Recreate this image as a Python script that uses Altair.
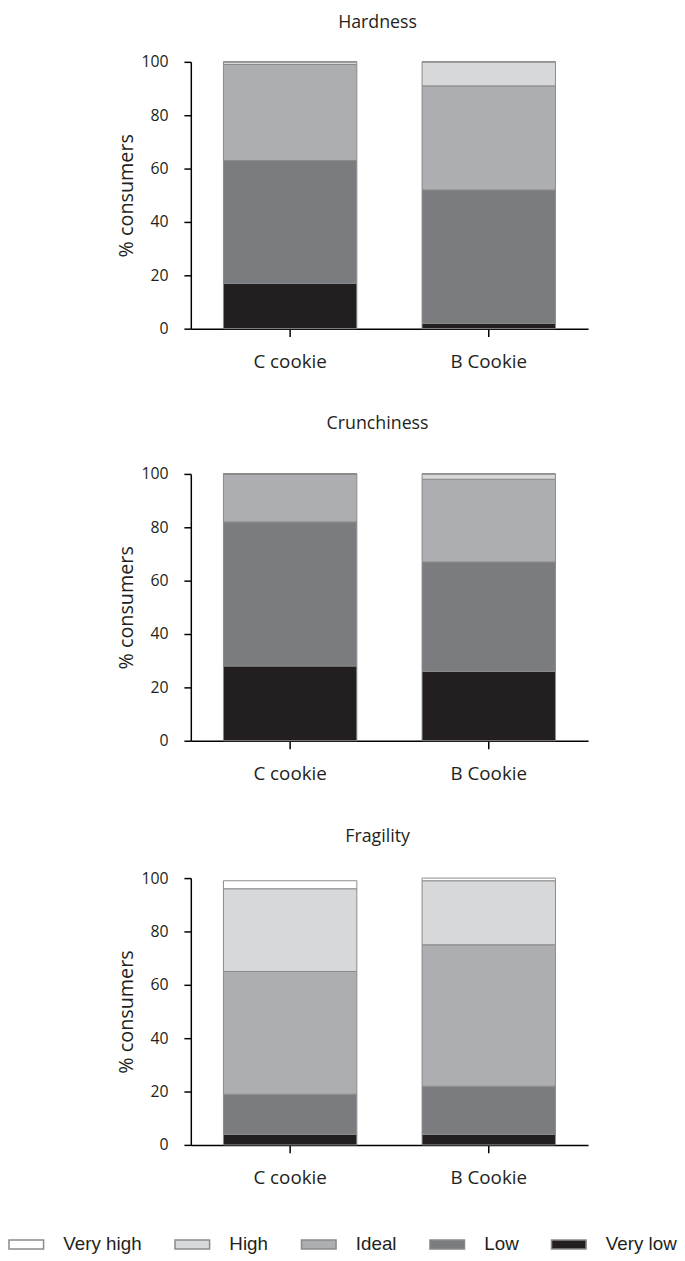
import altair as alt
import pandas as pd

attributes = ["Hardness", "Crunchiness", "Fragility"]
cookies = ["C cookie", "B Cookie"]
levels = ["Very high", "High", "Ideal", "Low", "Very low"]
colors = ["#ffffff", "#d7d8da", "#adaeb1", "#7b7c7f", "#231f20"]

# values listed bottom-up: Very low, Low, Ideal, High, Very high
hardness_c = [17, 46, 36, 1, 0]
hardness_b = [2, 50, 39, 9, 0]
crunch_c = [28, 54, 18, 0, 0]
crunch_b = [26, 41, 31, 2, 0]
fragility_c = [4, 15, 46, 31, 3]
fragility_b = [4, 18, 53, 24, 1]

bottom_up = ["Very low", "Low", "Ideal", "High", "Very high"]
series = {
    ("Hardness", "C cookie"): hardness_c,
    ("Hardness", "B Cookie"): hardness_b,
    ("Crunchiness", "C cookie"): crunch_c,
    ("Crunchiness", "B Cookie"): crunch_b,
    ("Fragility", "C cookie"): fragility_c,
    ("Fragility", "B Cookie"): fragility_b,
}
rows = []
for (attr, cookie), vals in series.items():
    for i, (lvl, v) in enumerate(zip(bottom_up, vals)):
        rows.append({"Attribute": attr, "Cookie": cookie, "Level": lvl, "Value": v, "rank": i})
df = pd.DataFrame(rows)

FONT = "Open Sans"
LEGEND_FONT = "Liberation Sans"
TXT = "#231f20"
title_offsets = {"Hardness": 22, "Crunchiness": 33, "Fragility": 25}


def panel(attr):
    return (
        alt.Chart(df)
        .transform_filter(alt.datum.Attribute == attr)
        .mark_bar(size=135, stroke="#8a8a8a", strokeWidth=1)
        .encode(
            x=alt.X(
                "Cookie:N",
                sort=cookies,
                scale=alt.Scale(paddingInner=0, paddingOuter=0),
                axis=alt.Axis(title=None, labelAngle=0, tickSize=8, labelPadding=16,
                              labelFontSize=19),
            ),
            y=alt.Y(
                "Value:Q",
                stack="zero",
                scale=alt.Scale(domain=[0, 100], nice=False),
                axis=alt.Axis(title="% consumers", values=[0, 20, 40, 60, 80, 100],
                              tickSize=7, labelPadding=16, labelFontSize=16,
                              titleFontSize=20, titlePadding=5),
            ),
            color=alt.Color(
                "Level:N",
                sort=levels,
                scale=alt.Scale(domain=levels, range=colors),
                legend=alt.Legend(
                    title=None, orient="none", direction="horizontal",
                    legendX=-185, legendY=1178,
                    symbolType="M-1,-0.26H1V0.26H-1Z", symbolSize=1225,
                    symbolStrokeColor="#8a8a8a", symbolStrokeWidth=1.5,
                    labelFontSize=19, labelOffset=19, columnPadding=30,
                ),
            ),
            order=alt.Order("rank:Q", sort="ascending"),
        )
        .properties(
            width=402,
            height=270,
            title=alt.TitleParams(attr, fontSize=18, fontWeight="normal",
                                  offset=title_offsets[attr],
                                  frame="group", dx=-12, font=FONT, color=TXT),
        )
    )


chart = (
    alt.vconcat(*[panel(a) for a in attributes], spacing=45)
    .resolve_scale(color="shared")
    .configure(padding={"left": 0, "top": -1, "right": 0, "bottom": 0})
    .configure_view(stroke=None)
    .configure_axis(
        grid=False, domainColor="black", domainWidth=1.5, tickColor="black", tickWidth=1.5,
        labelColor=TXT, titleColor=TXT, labelFont=FONT, titleFont=FONT, titleFontWeight="normal",
    )
    .configure_legend(labelFont=LEGEND_FONT, labelColor=TXT)
)

chart.save("out.html", embed_options={"renderer": "svg", "actions": False})
